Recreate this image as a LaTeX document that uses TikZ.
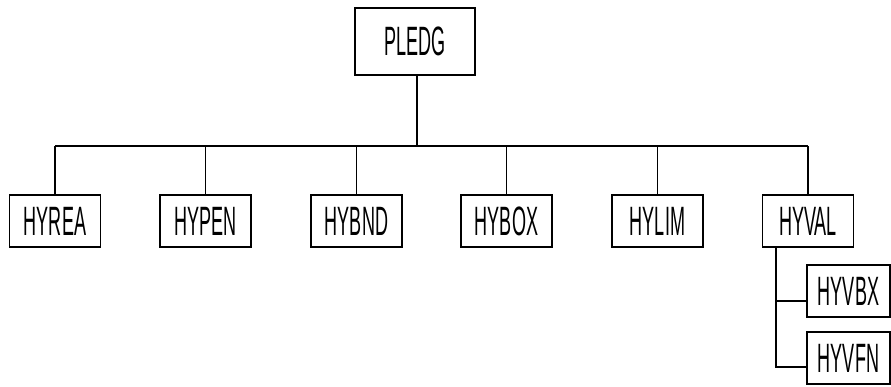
\documentclass[tikz,border=0pt]{standalone}
\usepackage{fontspec}
\setmainfont{Liberation Sans}
\usepackage{graphicx}
\usetikzlibrary{positioning}
\newcommand{\modname}[1]{\scalebox{0.44}[1]{\fontsize{35}{35}\selectfont #1}}
\tikzset{
	modbox/.style={draw, line width=1.3pt, minimum width=2.73cm, minimum height=1.56cm, inner sep=0pt},
	subbox/.style={modbox, minimum width=2.49cm},
	link/.style={line width=1.3pt}
}

\begin{document}
\begin{tikzpicture}[x=0.03cm, y=-0.03cm]
	\useasboundingbox (0,0) rectangle (891,386);
	% main module
	\node[modbox, minimum width=3.6cm, minimum height=2.01cm] (pledg) at (415,41.5) {\modname{PLEDG}};
	% second level
	\node[modbox] (hyrea) at (55,221) {\modname{HYREA}};
	\node[modbox] (hypen) at (205.5,221) {\modname{HYPEN}};
	\node[modbox] (hybnd) at (356.5,221) {\modname{HYBND}};
	\node[modbox] (hybox) at (506.5,221) {\modname{HYBOX}};
	\node[modbox] (hylim) at (657.5,221) {\modname{HYLIM}};
	\node[modbox] (hyval) at (808,221) {\modname{HYVAL}};
	% under HYVAL
	\node[subbox] (hyvbx) at (848.5,291) {\modname{HYVBX}};
	\node[subbox] (hyvfn) at (848.5,358) {\modname{HYVFN}};
	% connectors
	\coordinate (bus) at (417,146);
	\draw[link] ([xshift=0.06cm]pledg.south) -- (bus);
	\draw[link] (hyrea.north |- bus) -- (hyval.north |- bus);
	\foreach \n in {hyrea,hypen,hybnd,hybox,hylim,hyval}
		\draw[link] (\n.north) -- (\n.north |- bus);
	\coordinate (trunk) at ([xshift=0.42cm]hyval.south west);
	\draw[link] (trunk) |- ([yshift=-0.3cm]hyvbx.west);
	\draw[link] (trunk) |- ([yshift=-0.27cm]hyvfn.west);
\end{tikzpicture}
\end{document}
